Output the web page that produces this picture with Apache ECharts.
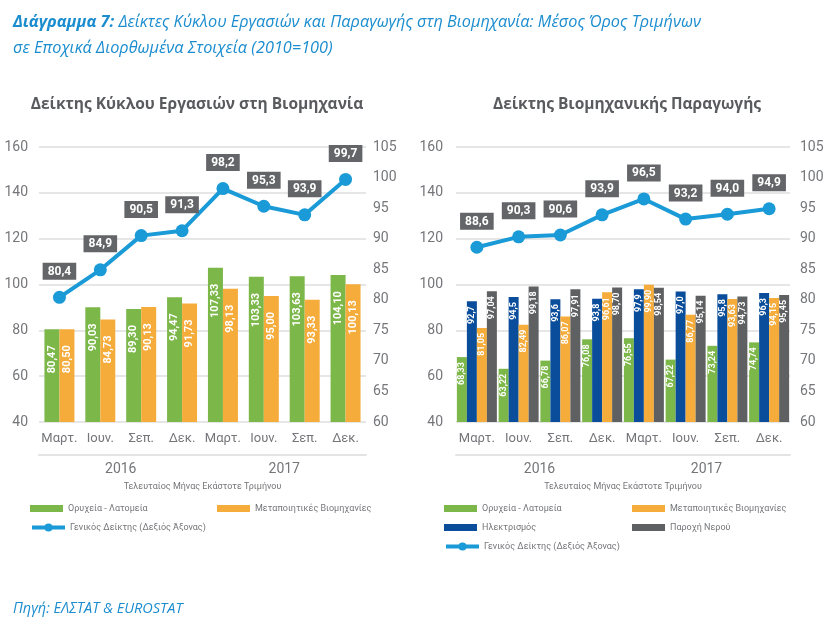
<!DOCTYPE html>
<html>
<head>
<meta charset="utf-8">
<script src="https://cdn.jsdelivr.net/npm/echarts@6/dist/echarts.min.js"></script>
<style>
  html, body { margin: 0; padding: 0; background: #fff; }
  #chart { width: 830px; height: 624px; }
</style>
</head>
<body>
<div id="chart"></div>
<script>
// quarter labels & years
const quarters = ['Μαρτ.', 'Ιουν.', 'Σεπ.', 'Δεκ.', 'Μαρτ.', 'Ιουν.', 'Σεπ.', 'Δεκ.'];
const years = ['2016', '2017'];

// left chart: turnover index
const turnMining = [80.47, 90.03, 89.30, 94.47, 107.33, 103.33, 103.63, 104.10];
const turnManuf = [80.50, 84.73, 90.13, 91.73, 98.13, 95.00, 93.33, 100.13];
const turnGeneral = [80.4, 84.9, 90.5, 91.3, 98.2, 95.3, 93.9, 99.7];

// right chart: production index
const prodMining = [68.33, 63.22, 66.78, 76.08, 76.55, 67.22, 73.24, 74.74];
const prodElec = [92.7, 94.5, 93.6, 93.8, 97.9, 97.0, 95.8, 96.3];
const prodManuf = [81.05, 82.49, 86.07, 96.61, 99.90, 86.77, 93.63, 94.15];
const prodWater = [97.04, 99.18, 97.91, 98.70, 98.54, 95.14, 94.73, 95.45];
const prodGeneral = [88.6, 90.3, 90.6, 93.9, 96.5, 93.2, 94.0, 94.9];

const GREEN = '#7cb749', ORANGE = '#f5ac3b', NAVY = '#0a4e9b', GREY = '#5f6062', BLUE = '#1a9ad6';
const axisGrey = '#75767a';
const MINING = 'Ορυχεία - Λατομεία';
const MANUF = 'Μεταποιητικές Βιομηχανίες';
const ELEC = 'Ηλεκτρισμός';
const WATER = 'Παροχή Νερού';
const GENERAL = 'Γενικός Δείκτης (Δεξιός Άξονας)';

let chart = echarts.init(document.getElementById('chart'), null, { renderer: 'canvas' });

function comma(v, d) { return v.toFixed(d).replace('.', ','); }

function barLabel(d, size, dist) {
  return {
    show: true,
    position: 'insideTop',
    rotate: 90,
    align: 'right',
    verticalAlign: 'middle',
    distance: dist,
    color: '#fff',
    fontWeight: 'bold',
    fontSize: size,
    fontFamily: 'Liberation Sans Narrow, Roboto, sans-serif',
    formatter: p => comma(p.value, d)
  };
}

function barSeries(name, data, color, gi, width, d, size, dist) {
  return {
    name: name, type: 'bar', xAxisIndex: gi * 2, yAxisIndex: gi * 2,
    data: data, barWidth: width, barGap: '0%',
    itemStyle: { color: color },
    label: barLabel(d, size, dist)
  };
}

function lineSeries(data, gi) {
  return {
    name: GENERAL, type: 'line', xAxisIndex: gi * 2, yAxisIndex: gi * 2 + 1,
    data: data, z: 5,
    symbol: 'circle', symbolSize: 13,
    lineStyle: { color: BLUE, width: 4 },
    itemStyle: { color: BLUE },
    label: {
      show: true, position: 'top', distance: 11,
      backgroundColor: '#646568', color: '#fff',
      fontWeight: 'bold', fontSize: 12, fontFamily: 'Roboto, sans-serif',
      padding: [3, 5, 2, 5],
      formatter: p => comma(p.value, 1)
    }
  };
}

function axesFor(gi) {
  const x = [
    {
      type: 'category', gridIndex: gi, data: quarters,
      axisLine: { show: false }, axisTick: { show: false },
      axisLabel: { interval: 0, color: axisGrey, fontSize: 13, margin: 10, fontFamily: 'Roboto, sans-serif' }
    },
    {
      type: 'category', gridIndex: gi, data: years, position: 'bottom', offset: 33,
      axisLine: { show: true, lineStyle: { color: '#e4e4e4', width: 2 } },
      axisTick: { show: false },
      axisLabel: { color: axisGrey, fontSize: 14, margin: 7, fontFamily: 'Roboto, sans-serif' },
      name: 'Τελευταίος Μήνας Εκάστοτε Τριμήνου', nameLocation: 'middle', nameGap: 27,
      nameTextStyle: { color: axisGrey, fontSize: 9, fontFamily: 'Roboto, sans-serif' }
    }
  ];
  const y = [
    {
      type: 'value', gridIndex: gi, min: 40, max: 160, interval: 20,
      axisLine: { show: false }, axisTick: { show: false },
      splitLine: { lineStyle: { color: '#e6e6e6', width: 2 } },
      axisLabel: { color: axisGrey, fontSize: 14, margin: gi ? 13 : 11, fontFamily: 'Roboto, sans-serif' }
    },
    {
      type: 'value', gridIndex: gi, min: 60, max: 105, interval: 5, position: 'right',
      axisLine: { show: false }, axisTick: { show: false }, splitLine: { show: false },
      axisLabel: { color: axisGrey, fontSize: 14, margin: gi ? 10 : 7, fontFamily: 'Roboto, sans-serif' }
    }
  ];
  return { x: x, y: y };
}

const a0 = axesFor(0), a1 = axesFor(1);

const legText = { color: axisGrey, fontSize: 9, fontFamily: 'Roboto, sans-serif' };
function leg(name, left, top, isBar) {
  const l = {
    data: [name], left: left, top: top, itemWidth: 33, itemHeight: isBar ? 7 : 10,
    textStyle: legText, selectedMode: false, padding: 0
  };
  if (isBar) l.icon = 'rect';
  else l.lineStyle = { width: 4 };
  return l;
}

let option = {
  backgroundColor: '#fff',
  animation: false,
  title: [
    {
      text: '{b|Διάγραμμα 7:} Δείκτες Κύκλου Εργασιών και Παραγωγής στη Βιομηχανία: Μέσος Όρος Τριμήνων',
      left: 8, top: 9,
      textStyle: {
        color: '#1b8dcf', fontSize: 16.3, fontStyle: 'italic', fontWeight: 'normal', fontFamily: 'Open Sans, sans-serif',
        rich: { b: { color: '#1b8dcf', fontSize: 16.3, fontStyle: 'italic', fontWeight: 'bold', fontFamily: 'Open Sans, sans-serif' } }
      }
    },
    {
      text: 'σε Εποχικά Διορθωμένα Στοιχεία (2010=100)',
      left: 8, top: 35,
      textStyle: { color: '#1b8dcf', fontSize: 16.3, fontStyle: 'italic', fontWeight: 'normal', fontFamily: 'Open Sans, sans-serif' }
    },
    {
      text: 'Δείκτης Κύκλου Εργασιών στη Βιομηχανία',
      left: 192, top: 92, textAlign: 'center',
      textStyle: { color: '#5a5b5e', fontSize: 15.5, fontWeight: 'bold', fontFamily: 'Open Sans, sans-serif' }
    },
    {
      text: 'Δείκτης Βιομηχανικής Παραγωγής',
      left: 622, top: 92, textAlign: 'center',
      textStyle: { color: '#5a5b5e', fontSize: 15.5, fontWeight: 'bold', fontFamily: 'Open Sans, sans-serif' }
    },
    {
      text: 'Πηγή: ΕΛΣΤΑΤ & EUROSTAT',
      left: 8, top: 596,
      textStyle: { color: '#1b8dcf', fontSize: 14.5, fontStyle: 'italic', fontWeight: 'normal', fontFamily: 'Open Sans, sans-serif' }
    }
  ],
  legend: [
    leg(MINING, 30, 504, true),
    leg(MANUF, 217, 504, true),
    leg(GENERAL, 30, 523, false),
    leg(MINING, 444, 504, true),
    leg(MANUF, 632, 504, true),
    leg(ELEC, 444, 523, true),
    leg(WATER, 632, 523, true),
    leg(GENERAL, 444, 542, false)
  ],
  grid: [
    { left: 39, top: 147, width: 327, height: 275 },
    { left: 456, top: 147, width: 334, height: 275 }
  ],
  xAxis: a0.x.concat(a1.x),
  yAxis: a0.y.concat(a1.y),
  series: [
    barSeries(MINING, turnMining, GREEN, 0, 15, 2, 11, 16),
    barSeries(MANUF, turnManuf, ORANGE, 0, 15, 2, 11, 16),
    lineSeries(turnGeneral, 0),
    barSeries(MINING, prodMining, GREEN, 1, 10, 2, 9, 5),
    barSeries(ELEC, prodElec, NAVY, 1, 10, 1, 9, 5),
    barSeries(MANUF, prodManuf, ORANGE, 1, 10, 2, 9, 5),
    barSeries(WATER, prodWater, GREY, 1, 10, 2, 9, 5),
    lineSeries(prodGeneral, 1)
  ]
};

chart.setOption(option);
window.addEventListener('resize', chart.resize);
</script>
</body>
</html>
